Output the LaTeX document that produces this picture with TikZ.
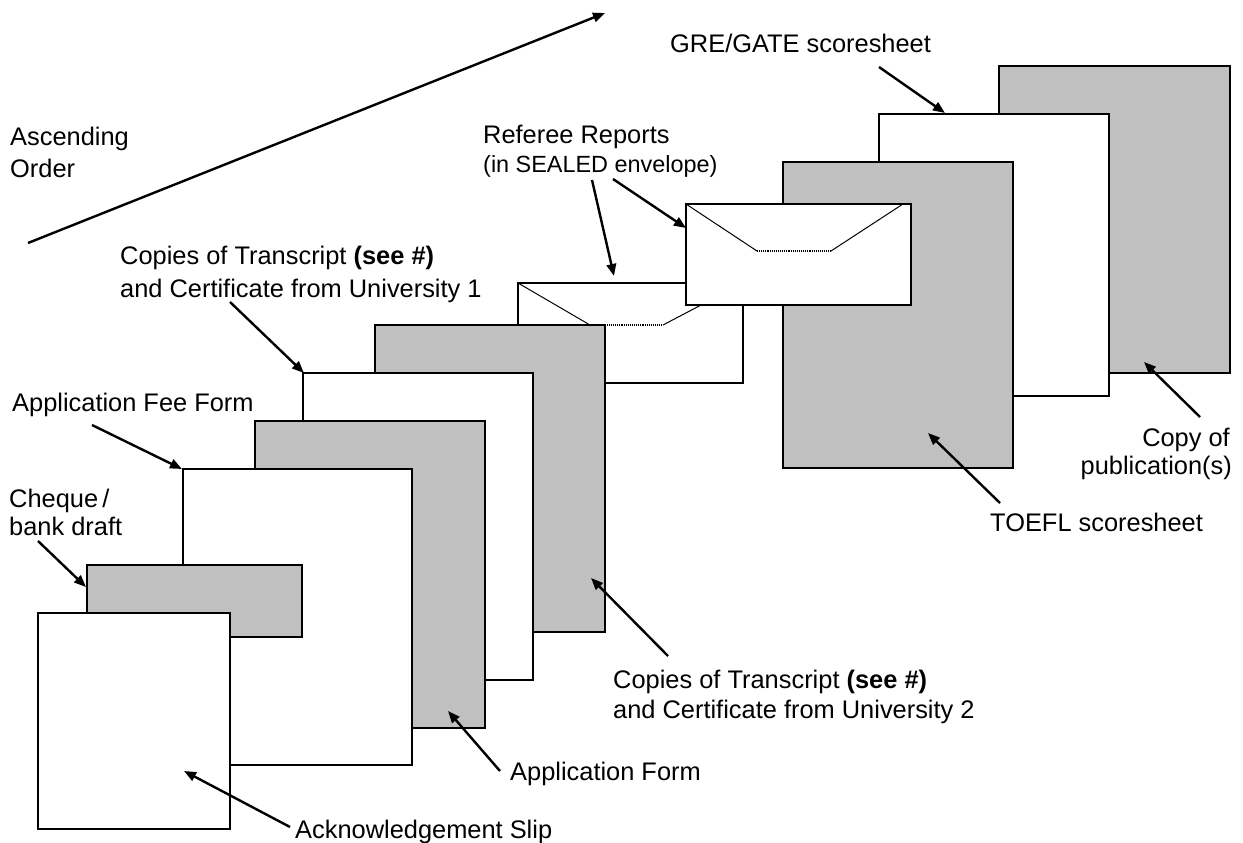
\documentclass[tikz,border=0pt]{standalone}
\usepackage{fontspec}
\setmainfont{Liberation Sans}
\usetikzlibrary{arrows.meta,calc}
\definecolor{sheetgray}{RGB}{192,192,192}
\begin{document}
\begin{tikzpicture}[x=1bp,y=-1bp,
  sheet/.style={draw=black,line width=2bp,fill=white,inner sep=0,outer sep=0,anchor=north west},
  graysheet/.style={sheet,fill=sheetgray},
  lbl/.style={inner sep=0,anchor=base west,font=\fontsize{25.5}{30}\selectfont},
  lblr/.style={lbl,anchor=base east},
  small/.style={lbl,font=\fontsize{23.5}{28}\selectfont},
  ptr/.style={line width=2.4bp,-{Triangle[length=12bp,width=9.5bp]}},
  flap/.style={line width=1bp},
  fold/.style={line width=1.1bp,densely dotted}]
\useasboundingbox (0,0) rectangle (1243,843);
\fill[white] (0,0) rectangle (1243,843);

% sheets, back to front
\node[graysheet,minimum width=231bp,minimum height=307bp] (pub) at (999,66) {};
\node[sheet,minimum width=230bp,minimum height=282bp] (gre) at (879,114) {};
\node[graysheet,minimum width=230bp,minimum height=306bp] (toefl) at (783,162) {};
\node[sheet,minimum width=225bp,minimum height=100bp] (env1) at (518,283) {};
\draw[flap] (env1.north west) -- ++(72,42) coordinate (e1a);
\draw[fold] (e1a) -- ++(73,0) coordinate (e1b);
\draw[flap] (e1b) -- (env1.north east);
\node[sheet,minimum width=225bp,minimum height=101bp] (env2) at (686,204) {};
\draw[flap] (env2.north west) -- ++(71,47) coordinate (e2a);
\draw[fold] (e2a) -- ++(74,0) coordinate (e2b);
\draw[flap] (e2b) -- ($(env2.north east)+(-8,0)$);
\node[graysheet,minimum width=230bp,minimum height=307bp] (tr2) at (375,325) {};
\node[sheet,minimum width=230bp,minimum height=307bp] (tr1) at (303,373) {};
\node[graysheet,minimum width=230bp,minimum height=307bp] (app) at (255,421) {};
\node[sheet,minimum width=229bp,minimum height=296bp] (fee) at (183,469) {};
\node[graysheet,minimum width=215bp,minimum height=72bp] (chq) at (87,565) {};
\node[sheet,minimum width=192bp,minimum height=216bp] (ack) at (38,613) {};

% labels
\node[lbl] (asc1) at (10,145) {Ascending};
\node[lbl] (asc2) at (10,177) {Order};
\node[lbl] (ref1) at (483,143) {Referee Reports};
\node[small] (ref2) at (483,172) {(in SEALED envelope)};
\node[lbl] (grel) at (670,52) {GRE/GATE scoresheet};
\node[lbl] (tra1) at (120,264) {Copies of Transcript \textbf{(see \#)}};
\node[lbl] (tra2) at (120,297) {and Certificate from University 1};
\node[lbl] (feel) at (12,411) {Application Fee Form};
\node[lbl] (chq1) at (9,507) {Cheque\,/};
\node[lbl] (chq2) at (9,535) {bank draft};
\node[lbl] (trb1) at (613,688) {Copies of Transcript \textbf{(see \#)}};
\node[lbl] (trb2) at (613,718) {and Certificate from University 2};
\node[lbl] (appl) at (510,780) {Application Form};
\node[lbl] (ackl) at (295,838) {Acknowledgement Slip};
\node[lbl] (toel) at (990,531) {TOEFL scoresheet};
\node[lblr] (pub1) at (1230,446) {Copy of};
\node[lblr] (pub2) at (1232,474) {publication(s)};

% arrow ends
\coordinate (ascA) at (28,243);   \coordinate (ascB) at (605,13);
\coordinate (greA) at (879,67);   \coordinate (greB) at (945,113);
\coordinate (r1A) at (592,180);   \coordinate (r1B) at (614,276);
\coordinate (r2A) at (613,179);   \coordinate (r2B) at (686,228);
\coordinate (t1A) at (230,302);   \coordinate (t1B) at (304,373);
\coordinate (feA) at (92,425);    \coordinate (feB) at (182,469);
\coordinate (chA) at (38,541);    \coordinate (chB) at (86,587);
\coordinate (akA) at (290,827);   \coordinate (akB) at (184,771);
\coordinate (apA) at (500,771);   \coordinate (apB) at (448,711);
\coordinate (t2A) at (668,656);   \coordinate (t2B) at (591,578);
\coordinate (toA) at (1000,503);  \coordinate (toB) at (928,433);
\coordinate (puA) at (1200,417);  \coordinate (puB) at (1144,362);

\draw[ptr] (ascA) -- (ascB);
\draw[ptr] (greA) -- (greB);
\draw[ptr] (r1A) -- (r1B);
\draw[ptr] (r2A) -- (r2B);
\draw[ptr] (t1A) -- (t1B);
\draw[ptr] (feA) -- (feB);
\draw[ptr] (chA) -- (chB);
\draw[ptr] (akA) -- (akB);
\draw[ptr] (apA) -- (apB);
\draw[ptr] (t2A) -- (t2B);
\draw[ptr] (toA) -- (toB);
\draw[ptr] (puA) -- (puB);
\end{tikzpicture}
\end{document}
